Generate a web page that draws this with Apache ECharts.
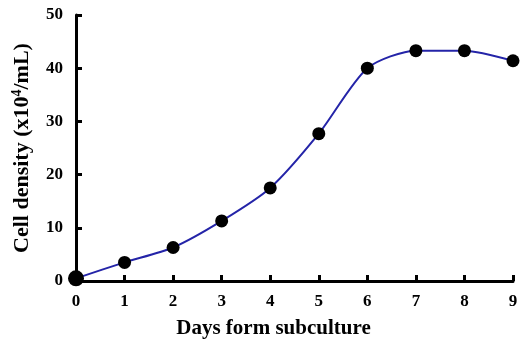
<!DOCTYPE html>
<html><head><meta charset="utf-8">
<script src="https://cdn.jsdelivr.net/npm/echarts@6/dist/echarts.min.js"></script>
<style>html,body{margin:0;padding:0;background:#fff}#c{width:523px;height:344px}</style>
</head><body><div id="c"></div>
<script>
const days = [0, 1, 2, 3, 4, 5, 6, 7, 8, 9];
const density = [0.5, 3.5, 6.3, 11.3, 17.5, 27.7, 40.0, 43.3, 43.3, 41.4];
const yTicks = [0, 10, 20, 30, 40, 50];

const chart = echarts.init(document.getElementById('c'));
const font = '"Liberation Serif", "Times New Roman", serif';
chart.setOption({
  animation: false,
  grid: {left: 76, right: 10, top: 15, bottom: 60},
  xAxis: {
    type: 'value', min: 0, max: 9, interval: 1,
    name: 'Days form subculture', nameLocation: 'middle', nameGap: 37,
    nameTextStyle: {fontFamily: font, fontWeight: 'bold', fontSize: 21, color: '#000', padding: [0, 42, 0, 0]},
    axisLine: {lineStyle: {color: '#000', width: 3}},
    axisTick: {inside: true, length: 6, lineStyle: {color: '#000', width: 3}},
    axisLabel: {fontFamily: font, fontWeight: 'bold', fontSize: 17, color: '#000', margin: 12},
    splitLine: {show: false}
  },
  yAxis: {
    type: 'value', min: 0, max: 50, interval: 10,
    name: '{a|Cell density (x10}{s|4}{a|/mL)}', nameLocation: 'middle', nameGap: 42,
    nameTextStyle: {
      rich: {
        a: {fontFamily: font, fontWeight: 'bold', fontSize: 22, color: '#000'},
        s: {fontFamily: font, fontWeight: 'bold', fontSize: 14, color: '#000', verticalAlign: 'top', padding: [0, 0, 10, 0]}
      }
    },
    axisLine: {show: true, lineStyle: {color: '#000', width: 3}},
    axisTick: {show: true, inside: true, length: 6, lineStyle: {color: '#000', width: 3}},
    axisLabel: {fontFamily: font, fontWeight: 'bold', fontSize: 17, color: '#000', margin: 13,
      formatter: v => yTicks.includes(v) ? String(v) : ''},
    splitLine: {show: false}
  },
  series: [{
    type: 'line',
    data: days.map((d, i) => [d, density[i]]),
    smooth: 0.25,
    symbol: 'circle',
    symbolSize: (v, p) => p.dataIndex === 0 ? 16 : 13,
    lineStyle: {color: '#2424a8', width: 2},
    itemStyle: {color: '#000'}
  }]
});
</script></body></html>
